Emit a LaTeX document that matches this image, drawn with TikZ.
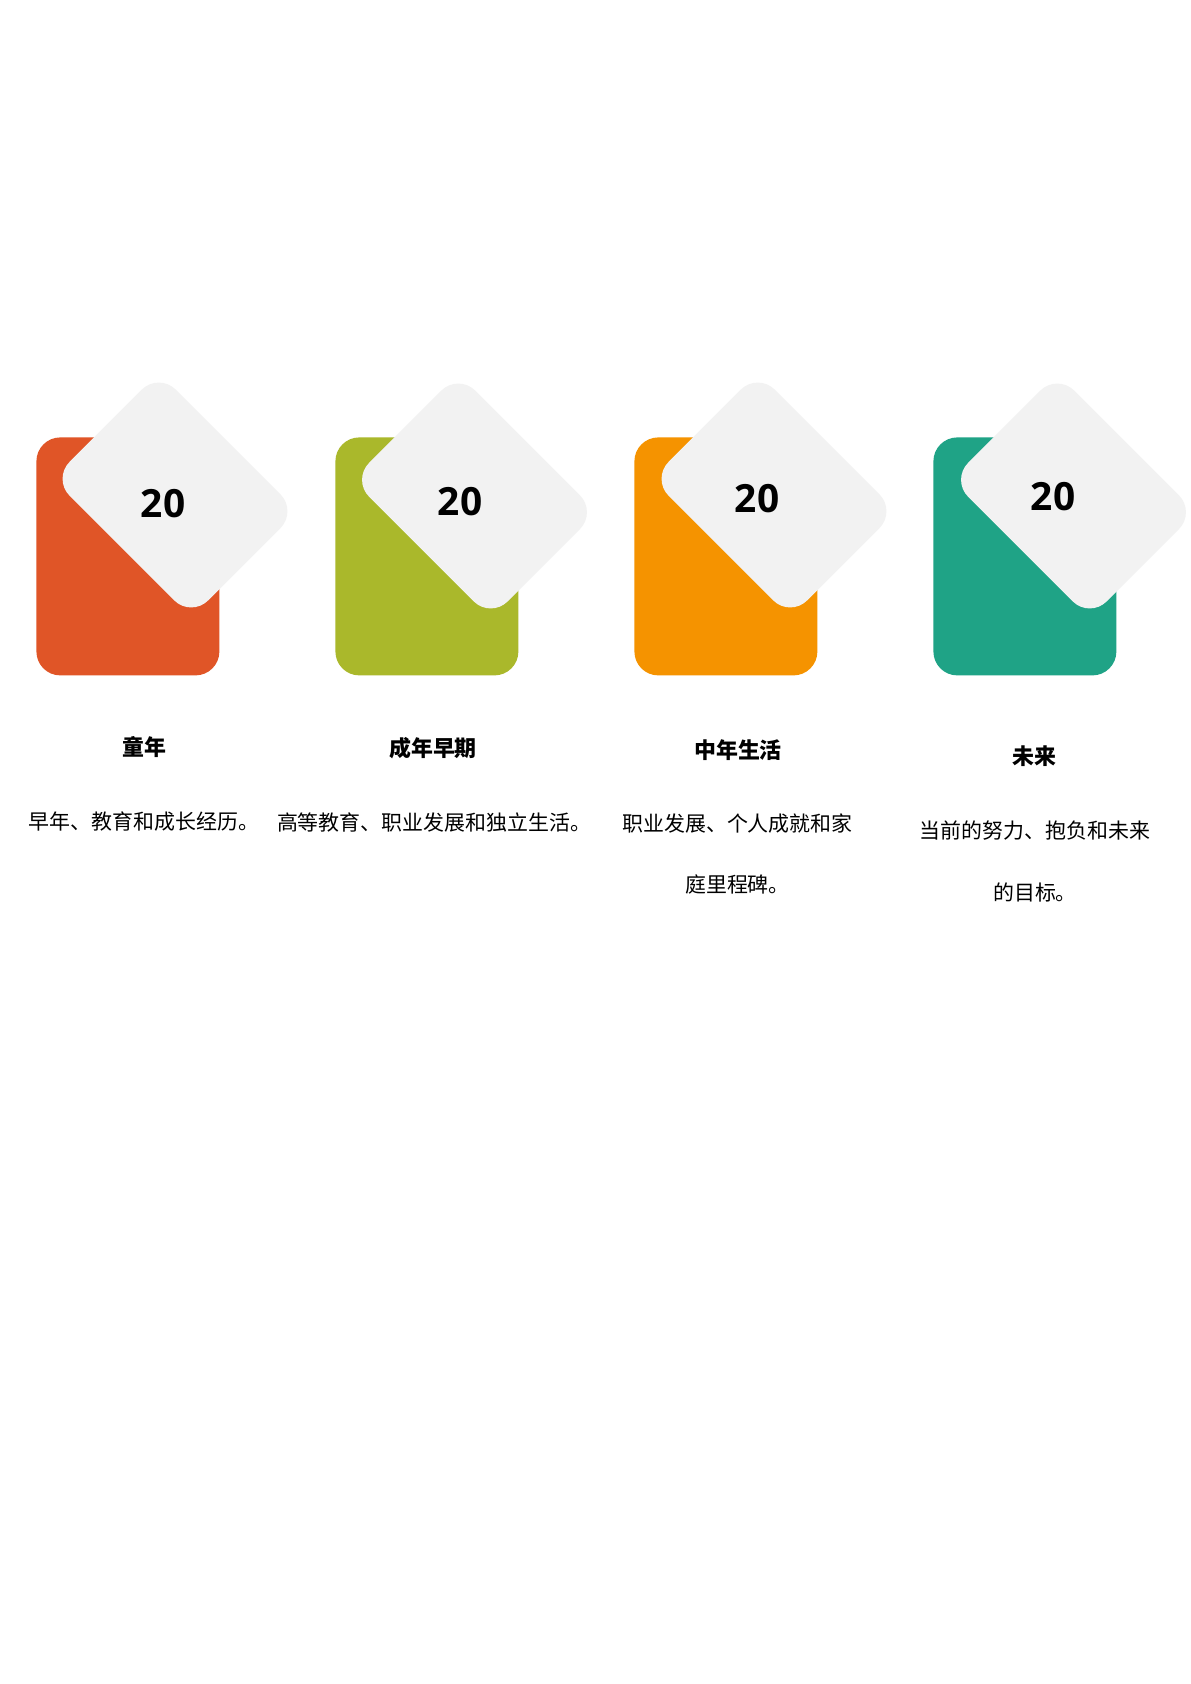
\documentclass[tikz,border=0pt]{standalone}
\usepackage{fontspec}
\setmainfont{Open Sans}
\newfontfamily\cjk{Noto Sans CJK SC}
\usepackage{tikz}
\definecolor{c0}{HTML}{E05527}
\definecolor{c1}{HTML}{AAB82B}
\definecolor{c2}{HTML}{F59300}
\definecolor{c3}{HTML}{1FA386}
\definecolor{cg}{HTML}{F2F2F2}
\tikzset{
  card/.style={rectangle,rounded corners=12pt,minimum width=91.8pt,minimum height=119.4pt,inner sep=0pt,anchor=north west},
  tile/.style={rectangle,rounded corners=12pt,fill=cg,minimum width=98.3pt,minimum height=75.3pt,inner sep=0pt,rotate=-45},
  num/.style={font=\bfseries\fontsize{19.5}{23}\selectfont},
  ttl/.style={font=\cjk\bfseries\fontsize{11}{13}\selectfont},
  txt/.style={font=\cjk\fontsize{10.5}{31}\selectfont,align=center}
}

\begin{document}
\begin{tikzpicture}[x=0.5017pt,y=-0.5017pt]

\useasboundingbox[fill=white] (0,0) rectangle (1191,1684);

%\draw[] (0,437) -- (1191,437);

% cards
\node[card,fill=c0] (b1) at (36,437){};
\node[card,fill=c1] (b2) at (335,437){};
\node[card,fill=c2] (b3) at (634,437){};
\node[card,fill=c3] (b4) at (933,437){};

% tiles
\node[tile] (d1) at (175,495){};
\node[tile] (d2) at (474.5,496){};
\node[tile] (d3) at (774,495){};
\node[tile] (d4) at (1073.5,496){};

\node[num] (n1) at (163,504){20};
\node[num] (n2) at (460,502){20};
\node[num] (n3) at (757,499){20};
\node[num] (n4) at (1053,497){20};

% titles
\node[ttl] (t1) at (144,747){童年};
\node[ttl] (t2) at (433,748){成年早期};
\node[ttl] (t3) at (738,750){中年生活};
\node[ttl] (t4) at (1034,756){未来};

% texts
\node[txt] (l1) at (144,822){早年、教育和成长经历。};
\node[txt] (l2) at (434,822){高等教育、职业发展和独立生活。};
\node[txt] (l3) at (737.5,854){职业发展、个人成就和家\\庭里程碑。};
\node[txt] (l4) at (1035,861.5){当前的努力、抱负和未来\\的目标。};

\end{tikzpicture}
\end{document}
